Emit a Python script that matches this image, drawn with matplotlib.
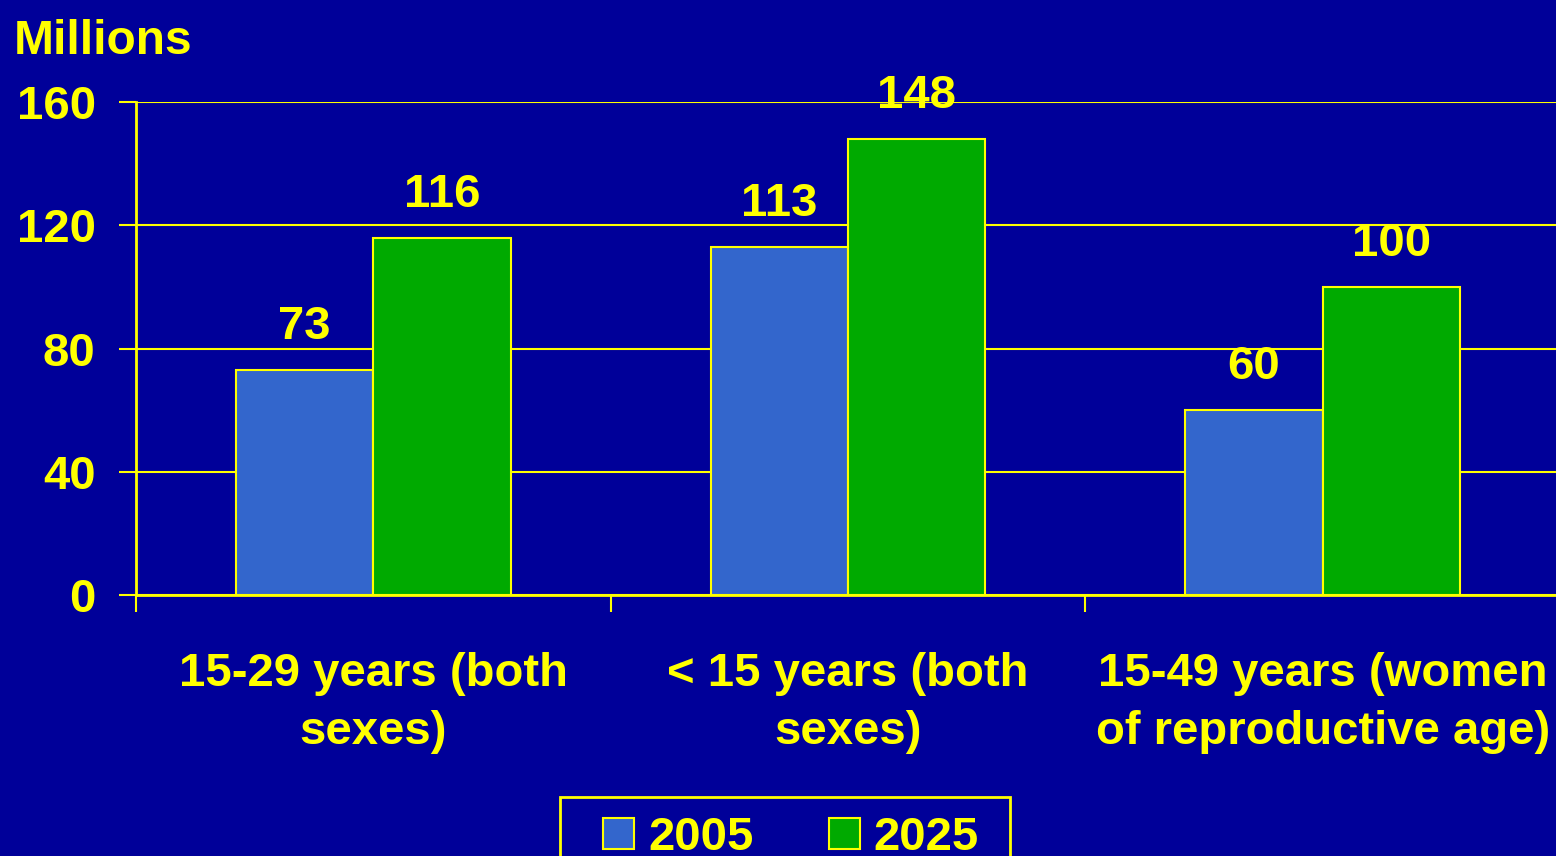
import matplotlib
matplotlib.use("Agg")
import matplotlib.pyplot as plt
from matplotlib.patches import Rectangle
import numpy as np

categories = ["15-29 years (both\nsexes)", "< 15 years (both\nsexes)", "15-49 years (women\nof reproductive age)"]
series_names = ["2005", "2025"]
values_2005 = [73, 113, 60]
values_2025 = [116, 148, 100]
yticks = [0, 40, 80, 120, 160]

BG = "#000099"
YEL = "#FFFF00"
BLUE = "#3366CC"
GREEN = "#00AA00"
FS = 34

plt.rcParams['font.family'] = ['Liberation Sans', 'DejaVu Sans']
plt.rcParams['font.weight'] = 'bold'

W, H = 1556, 856
fig = plt.figure(figsize=(W/100, H/100), dpi=100, facecolor=BG)
ax = fig.add_axes([136/W, (H-595)/H, (1560-136)/W, (595-102)/H])
ax.set_facecolor(BG)

x = np.arange(len(categories)) + 0.5
bw = 0.289
b1 = ax.bar(x - bw/2, values_2005, bw, color=BLUE, edgecolor=YEL, linewidth=1.5, label=series_names[0], zorder=3)
b2 = ax.bar(x + bw/2, values_2025, bw, color=GREEN, edgecolor=YEL, linewidth=1.5, label=series_names[1], zorder=3)
for bars in (b1, b2):
    ax.bar_label(bars, padding=15, color=YEL, fontsize=FS, fontweight='bold')

ax.set_xlim(0, 3)
ax.set_ylim(0, 160)
ax.set_yticks(yticks)
ax.set_yticklabels([str(v) for v in yticks])
ax.yaxis.grid(True, color=YEL, linewidth=1.5, zorder=0)
ax.set_axisbelow(True)

ax.set_xticks([0, 1, 2, 3])
ax.set_xticklabels([])
ax.set_xticks(x, minor=True)
ax.set_xticklabels(categories, minor=True, fontsize=FS, fontweight='bold', color=YEL, linespacing=1.42)
ax.tick_params(axis='x', which='minor', length=0, pad=41)
ax.tick_params(axis='x', which='major', length=12, width=1.5, color=YEL, direction='out')
ax.tick_params(axis='y', length=12, width=1.5, color=YEL, labelsize=FS, labelcolor=YEL, pad=17)
for lbl in ax.get_yticklabels():
    lbl.set_fontweight('bold')

for s in ['top', 'right']:
    ax.spines[s].set_visible(False)
for s in ['left', 'bottom']:
    ax.spines[s].set_color(YEL)
    ax.spines[s].set_linewidth(2)
ax.spines['bottom'].set_zorder(4)

fig.text(14/W, 1 - 42/H, "Millions", color=YEL, fontsize=34.5, fontweight='bold', va='center', ha='left')

# legend frame
fig.patches.append(Rectangle((560/W, -0.05), (1010-560)/W, 0.05 + (H-797)/H,
                             transform=fig.transFigure, facecolor=BG, edgecolor=YEL,
                             linewidth=2, zorder=1))
leg = fig.legend(handles=[b1, b2], labels=series_names, loc='center',
                 bbox_to_anchor=(791/W, 1 - 838/H), ncol=2, frameon=False,
                 prop={'weight': 'bold', 'size': FS},
                 handlelength=0.65, handleheight=0.65, handletextpad=0.3,
                 columnspacing=1.6, borderpad=0, borderaxespad=0)
for t in leg.get_texts():
    t.set_color(YEL)

fig.savefig("out.png", dpi=100, facecolor=BG)
